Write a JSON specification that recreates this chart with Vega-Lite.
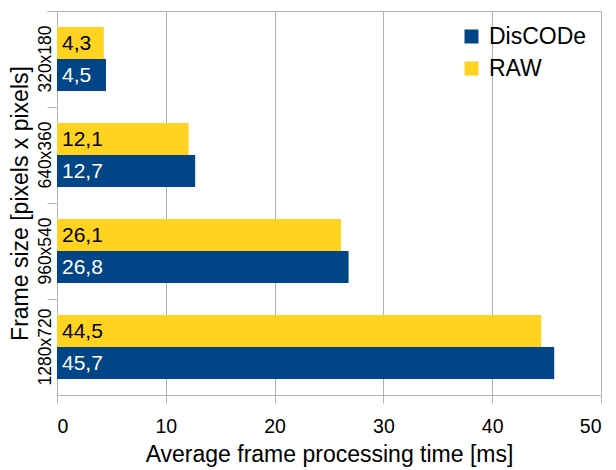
{
  "$schema": "https://vega.github.io/schema/vega-lite/v6.json",
  "width": 544,
  "height": 384,
  "autosize": {"type": "none"},
  "padding": {"left": 57, "top": 11, "right": 15, "bottom": 75},
  "background": "white",
  "config": {
    "font": "Arial, Liberation Sans, sans-serif",
    "view": {"stroke": "#b3b3b3", "strokeWidth": 1},
    "locale": {"number": {"decimal": ",", "thousands": ".", "grouping": [3], "currency": ["", "€"]}}
  },
  "data": {
    "values": [
      {"size": "320x180", "series": "RAW", "time": 4.3},
      {"size": "320x180", "series": "DisCODe", "time": 4.5},
      {"size": "640x360", "series": "RAW", "time": 12.1},
      {"size": "640x360", "series": "DisCODe", "time": 12.7},
      {"size": "960x540", "series": "RAW", "time": 26.1},
      {"size": "960x540", "series": "DisCODe", "time": 26.8},
      {"size": "1280x720", "series": "RAW", "time": 44.5},
      {"size": "1280x720", "series": "DisCODe", "time": 45.7}
    ]
  },
  "encoding": {
    "y": {
      "field": "size",
      "type": "nominal",
      "sort": ["320x180", "640x360", "960x540", "1280x720"],
      "scale": {"paddingInner": 0, "paddingOuter": 0},
      "axis": {
        "title": "Frame size [pixels x pixels]",
        "titleFontSize": 23,
        "titleFontWeight": "normal",
        "titleColor": "black",
        "titlePadding": 4,
        "labelAngle": 270,
        "labelAlign": "center",
        "labelBaseline": "alphabetic",
        "labelFontSize": 17.5,
        "labelColor": "black",
        "labelPadding": -3,
        "tickSize": 10,
        "tickColor": "#b3b3b3",
        "domainColor": "#b3b3b3",
        "bandPosition": 0,
        "tickExtra": true
      }
    },
    "yOffset": {
      "field": "series",
      "type": "nominal",
      "sort": ["RAW", "DisCODe"],
      "scale": {"paddingInner": 0, "paddingOuter": 0.5}
    },
    "x": {
      "field": "time",
      "type": "quantitative",
      "scale": {"domain": [0, 50]},
      "axis": {
        "title": "Average frame processing time [ms]",
        "titleFontSize": 23,
        "titleFontWeight": "normal",
        "titleColor": "black",
        "titlePadding": 8,
        "values": [0, 10, 20, 30, 40, 50],
        "format": "d",
        "labelFontSize": 19.5,
        "labelColor": "black",
        "labelPadding": 14,
        "tickSize": 8,
        "tickColor": "#b3b3b3",
        "domainColor": "#b3b3b3",
        "gridColor": "#b3b3b3",
        "grid": true
      }
    }
  },
  "layer": [
    {
      "mark": {"type": "bar", "cornerRadius": 0},
      "encoding": {
        "color": {
          "field": "series",
          "type": "nominal",
          "scale": {"domain": ["DisCODe", "RAW"], "range": ["#004586", "#ffd320"]},
          "legend": {
            "title": null,
            "orient": "none",
            "legendX": 403,
            "legendY": 14,
            "symbolType": "square",
            "symbolSize": 196,
            "symbolStrokeWidth": 0,
            "labelFontSize": 23,
            "labelColor": "black",
            "labelOffset": 6,
            "rowPadding": 8
          }
        }
      }
    },
    {
      "mark": {"type": "text", "align": "left", "baseline": "middle", "dx": 5, "dy": 1, "fontSize": 21},
      "encoding": {
        "x": {"datum": 0, "type": "quantitative"},
        "text": {"field": "time", "type": "quantitative", "format": ".1f"},
        "color": {
          "condition": {"test": "datum.series === 'DisCODe'", "value": "white"},
          "value": "black"
        }
      }
    }
  ]
}
